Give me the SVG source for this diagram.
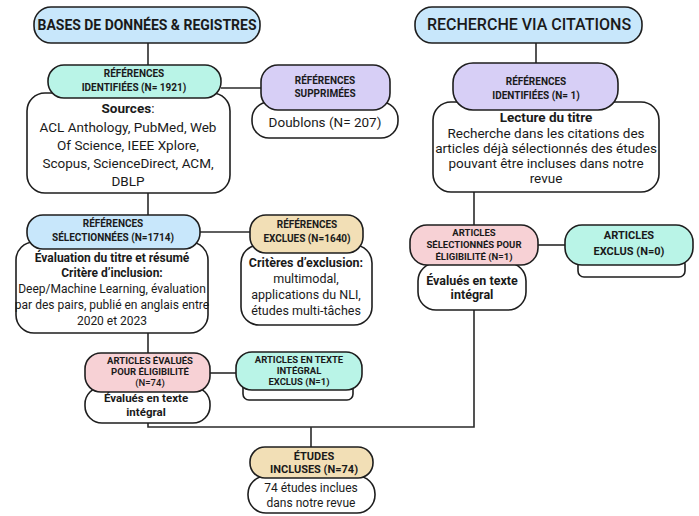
<svg xmlns="http://www.w3.org/2000/svg" width="699" height="516" viewBox="0 0 699 516">
<style>
.bx{stroke:#1e1e1e;stroke-width:1.6}
.blue{fill:#c8e7fb}.teal{fill:#b9f4e7}.purple{fill:#d7cff6}.tan{fill:#f2dfb6}.pink{fill:#f7d1d5}.white{fill:#ffffff}
.t{font-family:Roboto,"Liberation Sans",sans-serif;fill:#1a1a1a;text-anchor:middle}
.h{font-weight:700;font-size:10px}
.b{font-size:13.5px}
.k{font-weight:700}
.ti{font-size:16px;font-weight:500}
.c{stroke:#2a2a2a;stroke-width:1.6;fill:none}
</style>
<rect width="699" height="516" fill="#ffffff"/>
<g id="connectors">
<path class="c" d="M148 43V65"/>
<path class="c" d="M221 88H262"/>
<path class="c" d="M148 193V215"/>
<path class="c" d="M200 232H250"/>
<path class="c" d="M148 333V353"/>
<path class="c" d="M210 373H237"/>
<path class="c" d="M148 423V427H474V310"/>
<path class="c" d="M311 427V447"/>
<path class="c" d="M536 43V63"/>
<path class="c" d="M474 192V225"/>
<path class="c" d="M538 245H565"/>
</g>
<g id="bases">
<rect class="bx blue" x="34" y="7" width="226" height="36" rx="17"/>
<text class="t" x="147" y="30" style="font-size:14.5px;font-weight:700" textLength="219" lengthAdjust="spacingAndGlyphs">BASES DE DONNÉES &amp; REGISTRES</text>
</g>
<g id="recherche">
<rect class="bx blue" x="415" y="7" width="227" height="36" rx="17"/>
<text class="t ti" x="529" y="30">RECHERCHE VIA CITATIONS</text>
</g>
<g id="refs-identifiees">
<rect class="bx white" x="27" y="93" width="203" height="100" rx="18"/>
<rect class="bx teal" x="48" y="65" width="173" height="33" rx="16"/>
<text class="t h" x="134" y="77">RÉFÉRENCES</text>
<text class="t h" x="134" y="91">IDENTIFIÉES (N= 1921)</text>
<text class="t b" x="128" y="113"><tspan class="k">Sources</tspan>:</text>
<text class="t b" x="128" y="132">ACL Anthology, PubMed, Web</text>
<text class="t b" x="128" y="150">Of Science, IEEE Xplore,</text>
<text class="t b" x="128" y="168">Scopus, ScienceDirect, ACM,</text>
<text class="t b" x="128" y="186">DBLP</text>
</g>
<g id="refs-supprimees">
<rect class="bx white" x="252" y="102" width="146" height="36" rx="17"/>
<rect class="bx purple" x="261" y="65" width="129" height="45" rx="17"/>
<text class="t h" x="325" y="84">RÉFÉRENCES</text>
<text class="t h" x="325" y="97">SUPPRIMÉES</text>
<text class="t b" x="325" y="127">Doublons (N= 207)</text>
</g>
<g id="refs-identifiees-citations">
<rect class="bx white" x="433" y="102" width="226" height="90" rx="18"/>
<rect class="bx purple" x="453" y="63" width="165" height="47" rx="20"/>
<text class="t h" x="536" y="85">RÉFÉRENCES</text>
<text class="t h" x="536" y="99">IDENTIFIÉES  (N= 1)</text>
<text class="t b k" x="546" y="122">Lecture du titre</text>
<text class="t b" x="546" y="138">Recherche dans les citations des</text>
<text class="t b" x="546" y="153">articles déjà sélectionnés des études</text>
<text class="t b" x="546" y="168">pouvant être incluses dans notre</text>
<text class="t b" x="546" y="183">revue</text>
</g>
<g id="refs-selectionnees">
<rect class="bx white" x="16" y="242" width="192" height="91" rx="18"/>
<rect class="bx blue" x="27" y="215" width="173" height="34" rx="16"/>
<text class="t h" x="113" y="227">RÉFÉRENCES</text>
<text class="t h" x="113" y="241">SÉLECTIONNÉES (N=1714)</text>
<text class="t b k" x="112" y="262" style="font-size:12px">Évaluation du titre et résumé</text>
<text class="t b k" x="112" y="277" style="font-size:12px">Critère d’inclusion:</text>
<text class="t b" x="112" y="293" style="font-size:12px">Deep/Machine Learning, évaluation</text>
<text class="t b" x="112" y="309" style="font-size:12px">par des pairs, publié en anglais entre</text>
<text class="t b" x="112" y="325" style="font-size:12px">2020 et 2023</text>
</g>
<g id="refs-exclues">
<rect class="bx white" x="241" y="245" width="131" height="80" rx="18"/>
<rect class="bx tan" x="250" y="215" width="113" height="38" rx="16"/>
<text class="t h" x="307" y="228">RÉFÉRENCES</text>
<text class="t h" x="307" y="242">EXCLUES (N=1640)</text>
<text class="t b k" x="306" y="267" style="font-size:12.5px">Critères d’exclusion:</text>
<text class="t b" x="306" y="283" style="font-size:12.5px">multimodal,</text>
<text class="t b" x="306" y="299" style="font-size:12.5px">applications du NLI,</text>
<text class="t b" x="306" y="315" style="font-size:12.5px">études multi-tâches</text>
</g>
<g id="articles-selectionnes">
<rect class="bx white" x="418" y="263" width="108" height="47" rx="18"/>
<rect class="bx pink" x="410" y="225" width="128" height="40" rx="17"/>
<text class="t h" x="474" y="236" style="font-size:9.5px">ARTICLES</text>
<text class="t h" x="474" y="248" style="font-size:9.5px">SÉLECTIONNÉS POUR</text>
<text class="t h" x="474" y="260" style="font-size:9.5px">ÉLIGIBILITÉ (N=1)</text>
<text class="t b k" x="472" y="285" style="font-size:12.5px">Évalués en texte</text>
<text class="t b k" x="472" y="299" style="font-size:12.5px">intégral</text>
</g>
<g id="articles-exclus">
<rect class="bx white" x="578" y="258" width="107" height="19" rx="6"/>
<rect class="bx teal" x="565" y="225" width="128" height="40" rx="17"/>
<text class="t h" x="629" y="239" style="font-size:11px">ARTICLES</text>
<text class="t h" x="629" y="255" style="font-size:11px">EXCLUS (N=0)</text>
</g>
<g id="articles-evalues">
<rect class="bx white" x="85" y="387" width="125" height="36" rx="17"/>
<rect class="bx pink" x="85" y="353" width="125" height="39" rx="16"/>
<text class="t h" x="150" y="364" style="font-size:9.5px">ARTICLES ÉVALUÉS</text>
<text class="t h" x="150" y="375" style="font-size:9.5px">POUR ÉLIGIBILITÉ</text>
<text class="t h" x="150" y="386" style="font-size:9.5px;font-weight:500">(N=74)</text>
<text class="t b k" x="146" y="402" style="font-size:11.5px">Évalués en texte</text>
<text class="t b k" x="146" y="416" style="font-size:11.5px">intégral</text>
</g>
<g id="articles-texte-exclus">
<rect class="bx white" x="243" y="381" width="110" height="19" rx="6"/>
<rect class="bx teal" x="236" y="352" width="126" height="38" rx="16"/>
<text class="t h" x="299" y="363" style="font-size:9.5px">ARTICLES EN TEXTE</text>
<text class="t h" x="299" y="374" style="font-size:9.5px">INTÉGRAL</text>
<text class="t h" x="299" y="385" style="font-size:9.5px">EXCLUS (N=1)</text>
</g>
<g id="etudes-incluses">
<rect class="bx white" x="248" y="476" width="127" height="37" rx="18"/>
<rect class="bx tan" x="250" y="447" width="123" height="31" rx="15"/>
<text class="t h" x="314" y="460" style="font-size:11px">ÉTUDES</text>
<text class="t h" x="314" y="473" style="font-size:11px">INCLUSES (N=74)</text>
<text class="t b" x="311" y="492" style="font-size:12px">74 études inclues</text>
<text class="t b" x="311" y="507" style="font-size:12px">dans notre revue</text>
</g>
</svg>
